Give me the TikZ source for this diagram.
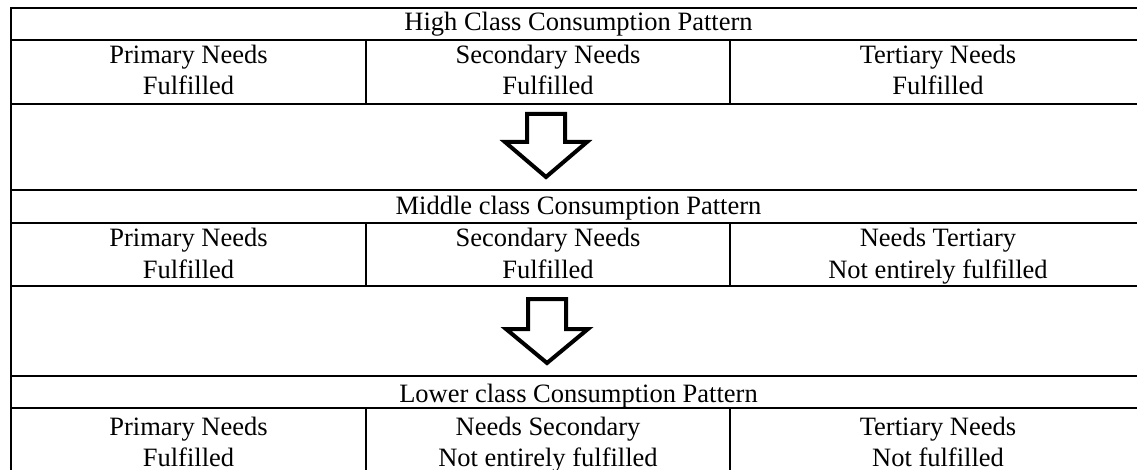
\documentclass[tikz,border=0pt]{standalone}
\usepackage{fontspec}
\setmainfont{Liberation Serif}
\begin{document}
\begin{tikzpicture}[x=1pt,y=-1pt,
  tline/.style={line width=2pt},
  bigarrow/.style={line width=4pt, line join=miter, fill=white},
  txt/.style={anchor=base, inner sep=0pt, font=\fontsize{26.5}{32}\selectfont}]
\useasboundingbox (0,0) rectangle (1137,470);
\clip (0,0) rectangle (1137,470);
% outer frame
\draw[tline] (11,8) rectangle (1146,472);
% horizontal rules
\foreach \yy in {40,104,190,223,286,376,408}
  \draw[tline] (11,\yy) -- (1146,\yy);
% column dividers
\foreach \ya/\yb in {40/104,223/286,408/472}{
  \draw[tline] (366,\ya) -- (366,\yb);
  \draw[tline] (730,\ya) -- (730,\yb);
}
% block arrows
\draw[bigarrow] (527,114) -- (565,114) -- (565,142) -- (587,142) -- (546,177) -- (505,142) -- (527,142) -- cycle;
\draw[bigarrow] (528,299) -- (566,299) -- (566,329) -- (588,329) -- (547,363) -- (506,329) -- (528,329) -- cycle;
% High class
\node[txt] (t1) at (578.5,31) {High Class Consumption Pattern};
\node[txt] (a1) at (188.5,64) {Primary Needs};
\node[txt] (a2) at (188.5,95) {Fulfilled};
\node[txt] (b1) at (548,64) {Secondary Needs};
\node[txt] (b2) at (548,95) {Fulfilled};
\node[txt] (c1) at (938,64) {Tertiary Needs};
\node[txt] (c2) at (938,95) {Fulfilled};
% Middle class
\node[txt] (t2) at (578.5,215) {Middle class Consumption Pattern};
\node[txt] (d1) at (188.5,247) {Primary Needs};
\node[txt] (d2) at (188.5,278) {Fulfilled};
\node[txt] (e1) at (548,247) {Secondary Needs};
\node[txt] (e2) at (548,278) {Fulfilled};
\node[txt] (f1) at (938,247) {Needs Tertiary};
\node[txt] (f2) at (938,278) {Not entirely fulfilled};
% Lower class
\node[txt] (t3) at (578.5,402) {Lower class Consumption Pattern};
\node[txt] (g1) at (188.5,435) {Primary Needs};
\node[txt] (g2) at (188.5,466) {Fulfilled};
\node[txt] (h1) at (548,435) {Needs Secondary};
\node[txt] (h2) at (548,466) {Not entirely fulfilled};
\node[txt] (i1) at (938,435) {Tertiary Needs};
\node[txt] (i2) at (938,466) {Not fulfilled};
\end{tikzpicture}
\end{document}
